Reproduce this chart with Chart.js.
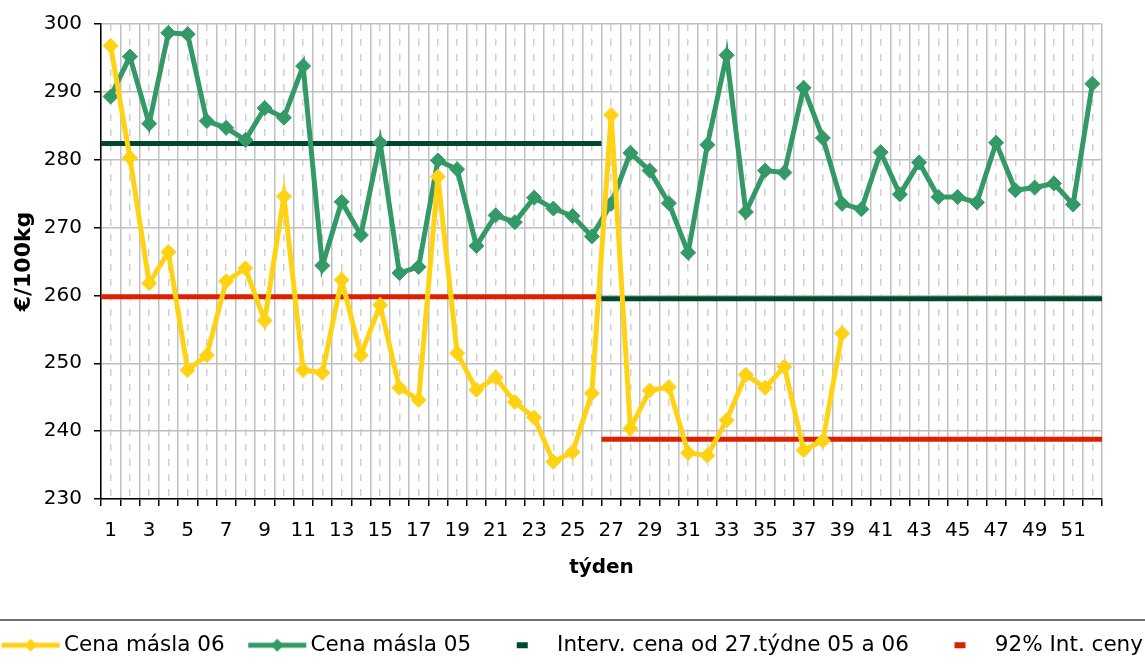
<!DOCTYPE html>
<html>
<head>
<meta charset="utf-8">
<script src="https://cdn.jsdelivr.net/npm/chart.js@4/dist/chart.umd.min.js"></script>
<style>
html,body{margin:0;padding:0;background:#fff;}
</style>
</head>
<body>
<canvas id="chart" width="1145" height="664"></canvas>
<script>
// weeks 1..52
const weeks = Array.from({length: 52}, (_, i) => String(i + 1));

// Cena másla 06 (only weeks 1-39 known)
const butter06 = [296.8, 280.3, 261.8, 266.4, 249.0, 251.2, 262.1, 264.0, 256.3, 274.6,
  249.0, 248.6, 262.3, 251.2, 258.6, 246.4, 244.6, 277.5, 251.5, 246.1,
  247.9, 244.3, 242.0, 235.5, 236.9, 245.6, 286.6, 240.4, 246.0, 246.5,
  236.8, 236.4, 241.6, 248.3, 246.4, 249.5, 237.2, 238.6, 254.4];

// Cena másla 05
const butter05 = [289.3, 295.2, 285.3, 298.7, 298.5, 285.7, 284.7, 282.9, 287.6, 286.2,
  293.8, 264.4, 273.8, 268.9, 282.5, 263.3, 264.2, 279.9, 278.6, 267.3,
  271.8, 270.8, 274.4, 272.8, 271.7, 268.7, 273.5, 281.0, 278.4, 273.6,
  266.3, 282.2, 295.4, 272.3, 278.4, 278.1, 290.6, 283.2, 273.5, 272.7,
  281.1, 274.9, 279.6, 274.5, 274.5, 273.7, 282.5, 275.5, 275.9, 276.5,
  273.4, 291.2];

// intervention price before / from week 27, and 92 % of it
const splitWeek = 26;
const intervPrice = [282.4, 259.5];
const interv92 = [259.8, 238.8];

const yMin = 230, yMax = 300, yStep = 10;

const labels = ['Cena másla 06', 'Cena másla 05', 'Interv. cena od 27.týdne 05 a 06', '92% Int. ceny'];
const colors = ['#FFD214', '#339966', '#00482A', '#DD2000'];

// two flat segments with a break at the week boundary
function halves(v) {
  return [
    {x: 0, y: v[0]}, {x: splitWeek, y: v[0]}, {x: splitWeek, y: null},
    {x: splitWeek, y: v[1]}, {x: weeks.length, y: v[1]}
  ];
}

function lineIcon(color) {
  const c = document.createElement('canvas');
  c.width = 66; c.height = 16;
  const g = c.getContext('2d');
  g.fillStyle = color;
  g.fillRect(7, 5.5, 58, 5);
  g.beginPath();
  g.moveTo(36, 1.5); g.lineTo(42.5, 8); g.lineTo(36, 14.5); g.lineTo(29.5, 8);
  g.closePath();
  g.fill();
  return c;
}

function dashIcon(color) {
  const c = document.createElement('canvas');
  c.width = 66; c.height = 16;
  const g = c.getContext('2d');
  g.fillStyle = color;
  g.fillRect(29, 5, 11, 6);
  return c;
}

const icons = [lineIcon(colors[0]), lineIcon(colors[1]), dashIcon(colors[2]), dashIcon(colors[3])];

const legendRule = {
  id: 'legendRule',
  afterDraw(c) {
    const g = c.ctx;
    const y = c.legend.top + 9.5;
    g.save();
    g.strokeStyle = '#404040';
    g.lineWidth = 1.5;
    g.beginPath();
    g.moveTo(0, y);
    g.lineTo(c.width, y);
    g.stroke();
    g.restore();
  }
};

Chart.defaults.font.family = "'DejaVu Sans', Verdana, sans-serif";
Chart.defaults.color = '#000';

const markers = {
  borderWidth: 5,
  pointStyle: 'rectRot',
  pointRadius: 7.5,
  pointHoverRadius: 7.5,
  pointBorderWidth: 1,
  tension: 0,
  xAxisID: 'x',
  yAxisID: 'y'
};

new Chart(document.getElementById('chart'), {
  type: 'line',
  data: {
    labels: weeks,
    datasets: [
      Object.assign({label: labels[0], data: butter06, borderColor: colors[0], backgroundColor: colors[0],
        pointBackgroundColor: colors[0], pointBorderColor: colors[0]}, markers),
      Object.assign({label: labels[1], data: butter05, borderColor: colors[1], backgroundColor: colors[1],
        pointBackgroundColor: colors[1], pointBorderColor: colors[1]}, markers),
      {label: labels[2], data: halves(intervPrice), borderColor: colors[2], backgroundColor: colors[2],
        borderWidth: 5, pointRadius: 0, xAxisID: 'xl', yAxisID: 'y', borderCapStyle: 'butt'},
      {label: labels[3], data: halves(interv92), borderColor: colors[3], backgroundColor: colors[3],
        borderWidth: 5, pointRadius: 0, xAxisID: 'xl', yAxisID: 'y', borderCapStyle: 'butt'}
    ]
  },
  options: {
    responsive: false,
    animation: false,
    layout: {padding: {top: 23, left: -30, right: -30, bottom: -2}},
    plugins: {
      tooltip: {enabled: false},
      legend: {
        position: 'bottom',
        labels: {
          usePointStyle: true,
          pointStyleWidth: 51.25,
          padding: 24,
          font: {size: 21.5},
          color: '#000',
          generateLabels: chart => Chart.defaults.plugins.legend.labels.generateLabels(chart)
            .map((item, i) => Object.assign(item, {pointStyle: icons[i]}))
        }
      }
    },
    scales: {
      x: {
        type: 'category',
        offset: true,
        grid: {offset: true, color: '#c0c0c0', lineWidth: 1.5, tickColor: '#000', tickLength: 7, tickWidth: 1.5},
        border: {color: '#000', width: 1.5},
        ticks: {
          autoSkip: false, maxRotation: 0, padding: 13, font: {size: 20}, color: '#000',
          callback(v, i) { return i % 2 === 0 ? this.getLabelForValue(v) : ''; }
        },
        title: {display: true, text: 'týden', font: {size: 20, weight: 'bold'}, padding: {top: 0, bottom: 30.5}},
        afterFit(s) { s.height = 111.5; }
      },
      xm: {
        type: 'category',
        labels: weeks,
        offset: true,
        position: 'bottom',
        grid: {offset: false, color: '#d0d0d0', lineWidth: 1.5, drawTicks: false},
        border: {display: false, dash: [7, 8]},
        ticks: {display: false},
        afterFit(s) { s.height = 0; }
      },
      xl: {type: 'linear', min: 0, max: weeks.length, display: false},
      y: {
        min: yMin, max: yMax,
        ticks: {stepSize: yStep, padding: 12, font: {size: 20}, color: '#000'},
        grid: {color: '#c0c0c0', lineWidth: 1.5, tickColor: '#000', tickLength: 7, tickWidth: 1.5},
        border: {color: '#000', width: 1.5},
        title: {display: true, text: '€/100kg', font: {size: 22, weight: 'bold'}, padding: {top: 41}},
        afterFit(s) { s.width = 131; }
      },
      yr: {
        type: 'linear',
        position: 'right',
        grid: {display: false},
        ticks: {display: false},
        border: {display: false},
        afterFit(s) { s.width = 73; }
      }
    }
  },
  plugins: [legendRule]
});
</script>
</body>
</html>
